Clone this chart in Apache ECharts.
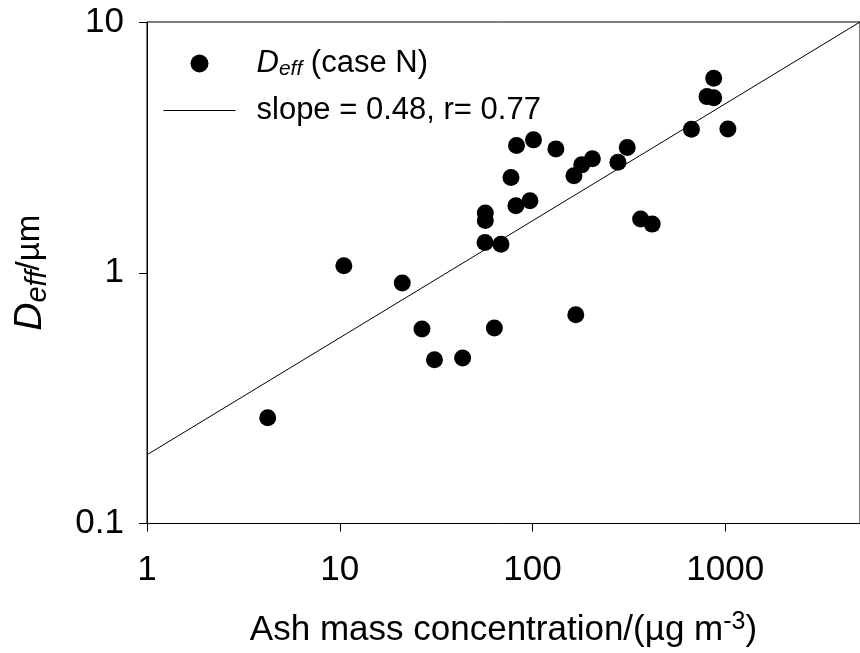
<!DOCTYPE html>
<html><head><meta charset="utf-8">
<script src="https://cdn.jsdelivr.net/npm/echarts@6/dist/echarts.min.js"></script>
<style>html,body{margin:0;padding:0;background:#fff}#c{width:860px;height:653px}</style>
</head><body><div id="c"></div>
<script>
// Ash mass concentration (µg m^-3) and effective diameter (µm), case N
const ashMass = [4.23, 10.5, 21.1, 26.7, 31.0, 43.4, 63.4, 56.9, 56.9, 56.7, 68.6, 82.0, 97.0, 77.3, 82.6, 101.2, 132.2, 164, 180, 204.4, 277.5, 310.0, 363.8, 417.7, 167.7, 667.6, 1032, 804, 871, 871];
const deff    = [0.264, 1.066, 0.910, 0.597, 0.450, 0.457, 0.602, 1.729, 1.616, 1.32, 1.30, 1.849, 1.936, 2.398, 3.215, 3.388, 3.119, 2.435, 2.693, 2.846, 2.761, 3.157, 1.637, 1.563, 0.680, 3.737, 3.747, 5.04, 4.99, 5.97];
// fitted power-law line endpoints
const fitX = [1, 5000];
const fitY = [0.188, 10];
const xTickLabels = [1, 10, 100, 1000];
const yTickLabels = [0.1, 1, 10];
const scatterName = 'Deff (case N)';
const fitName = 'slope = 0.48, r= 0.77';

const FONT = '"Liberation Sans", Arial, Helvetica, sans-serif';
const chart = echarts.init(document.getElementById('c'), null, {renderer: 'canvas'});

function near(v, list) {
  for (const t of list) if (Math.abs(v - t) / t < 1e-6) return t;
  return null;
}

chart.setOption({
  backgroundColor: '#fff',
  animation: false,
  textStyle: {fontFamily: FONT, color: '#000'},
  grid: {left: 147, right: -2, top: 22, bottom: 129, show: true, borderColor: '#000', borderWidth: 1, containLabel: false},
  legend: {
    orient: 'vertical', left: 158, top: 43,
    itemWidth: 72, itemHeight: 18, itemGap: 15,
    data: [
      {name: scatterName, icon: 'circle'},
      {name: fitName, icon: 'line', itemStyle: {color: '#000', borderColor: '#000', borderWidth: 1}, lineStyle: {color: '#000', width: 1}}
    ],
    formatter: function (n) {
      if (n === scatterName) return '{i|D}{s|eff}{n| (case N)}';
      return '{n|' + n + '}';
    },
    textStyle: {
      color: '#000', fontFamily: FONT, padding: [0, 0, 0, 16],
      rich: {
        n: {fontSize: 31, lineHeight: 33, fontFamily: FONT, color: '#000'},
        i: {fontSize: 31, lineHeight: 33, fontStyle: 'italic', fontFamily: FONT, color: '#000'},
        s: {fontSize: 21, lineHeight: 15, fontStyle: 'italic', verticalAlign: 'bottom', fontFamily: FONT, color: '#000'}
      }
    }
  },
  xAxis: {
    type: 'log', logBase: 10, min: 1, max: 5000,
    name: '{n|Ash mass concentration/(µg m}{sup|-3}{n|)}',
    nameLocation: 'middle', nameGap: 86,
    nameTextStyle: {
      rich: {
        n: {fontSize: 35, lineHeight: 42, fontFamily: FONT, color: '#000'},
        sup: {fontSize: 25, lineHeight: 25, verticalAlign: 'top', fontFamily: FONT, color: '#000'}
      }
    },
    axisLine: {show: true, lineStyle: {color: '#000', width: 1}},
    axisTick: {show: true, inside: false, length: 8, lineStyle: {color: '#000', width: 1}},
    axisLabel: {
      fontSize: 35, margin: 29, color: '#000', fontFamily: FONT, showMaxLabel: false,
      formatter: function (v) { const t = near(v, xTickLabels); return t === null ? '' : String(t); }
    },
    splitLine: {show: false}, minorTick: {show: false}
  },
  yAxis: {
    type: 'log', logBase: 10, min: 0.1, max: 10,
    name: '{d|D}{s|eff}{n|/µm}',
    nameLocation: 'middle', nameRotate: 90, nameGap: 95,
    nameTextStyle: {
      rich: {
        d: {fontSize: 39, lineHeight: 44, fontStyle: 'italic', fontFamily: FONT, color: '#000'},
        s: {fontSize: 29, lineHeight: 32, fontStyle: 'italic', verticalAlign: 'bottom', fontFamily: FONT, color: '#000'},
        n: {fontSize: 33, lineHeight: 44, fontFamily: FONT, color: '#000'}
      }
    },
    axisLine: {show: true, lineStyle: {color: '#000', width: 1}},
    axisTick: {show: true, inside: false, length: 8, lineStyle: {color: '#000', width: 1}},
    axisLabel: {
      fontSize: 35, margin: 23, color: '#000', fontFamily: FONT,
      formatter: function (v) { const t = near(v, yTickLabels); return t === null ? '' : String(t); }
    },
    splitLine: {show: false}, minorTick: {show: false}
  },
  series: [
    {
      name: fitName, type: 'line', data: fitX.map((x, i) => [x, fitY[i]]),
      symbol: 'none', showSymbol: false, clip: true,
      lineStyle: {color: '#000', width: 1}, itemStyle: {color: '#000'}, z: 2
    },
    {
      name: scatterName, type: 'scatter', data: ashMass.map((x, i) => [x, deff[i]]),
      symbol: 'circle', symbolSize: 17, itemStyle: {color: '#000', opacity: 1}, z: 3
    }
  ]
});
</script></body></html>
